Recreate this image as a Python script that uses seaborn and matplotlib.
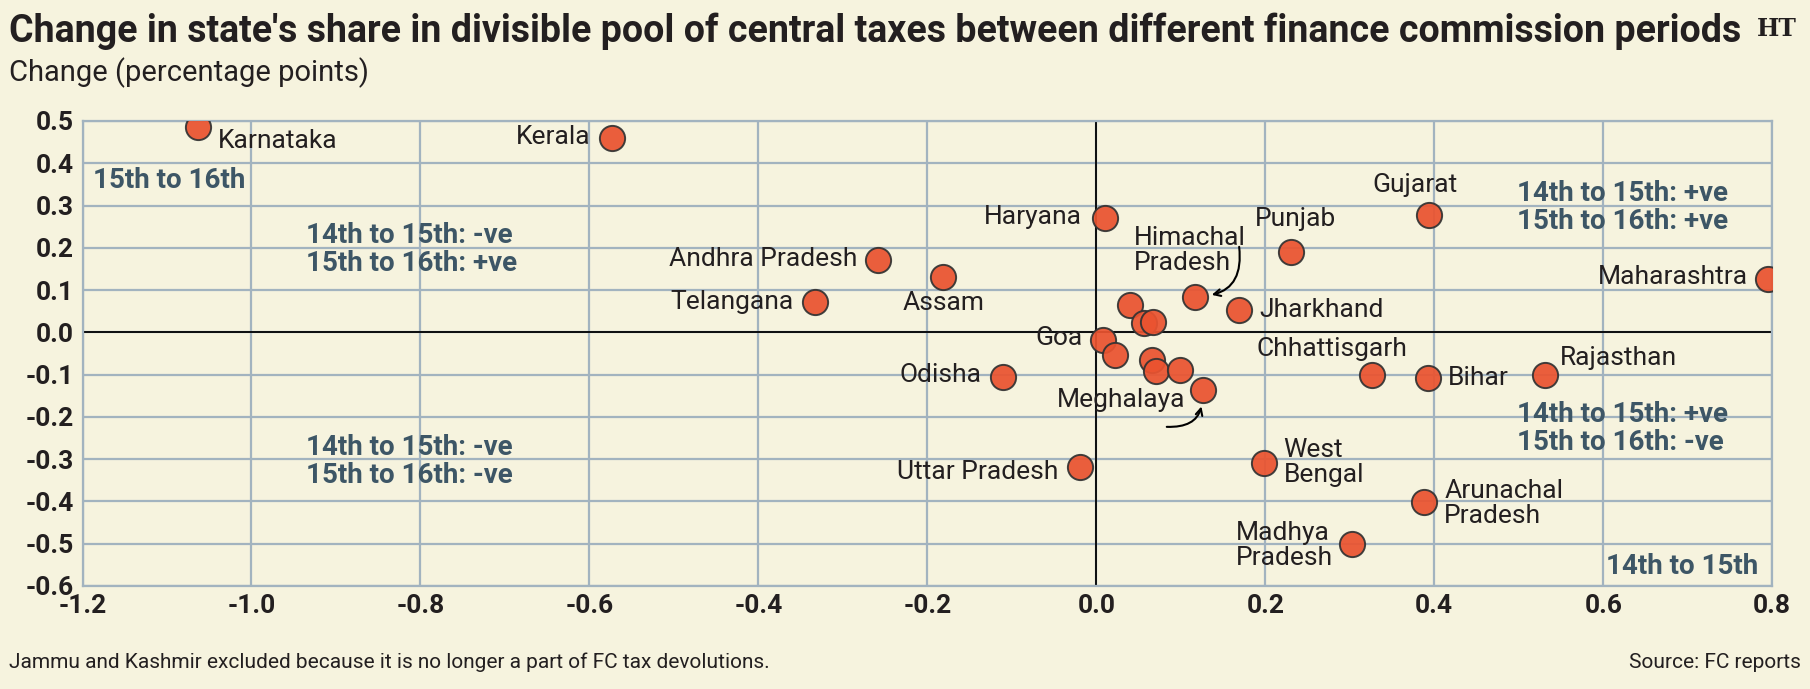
import matplotlib
matplotlib.use("Agg")
import matplotlib.pyplot as plt
from matplotlib import font_manager
import seaborn as sns
import pandas as pd

# ---------------- data ----------------
states = [
    "Karnataka", "Kerala", "Haryana", "Gujarat", "Punjab", "Maharashtra",
    "Andhra Pradesh", "Assam", "Telangana", "Himachal Pradesh", "Jharkhand",
    "Goa", "Meghalaya", "Odisha", "Chhattisgarh", "Bihar", "Rajasthan",
    "Uttar Pradesh", "West Bengal", "Arunachal Pradesh", "Madhya Pradesh",
    "Unlabelled 1", "Unlabelled 2", "Unlabelled 3", "Unlabelled 4",
    "Unlabelled 5", "Unlabelled 6", "Unlabelled 7",
]
change_14_to_15 = [
    -1.063, -0.573, 0.010, 0.394, 0.230, 0.795,
    -0.258, -0.181, -0.333, 0.117, 0.169,
    0.008, 0.126, -0.111, 0.326, 0.393, 0.531,
    -0.019, 0.198, 0.388, 0.303,
    0.040, 0.056, 0.067, 0.022, 0.066, 0.071, 0.099,
]
change_15_to_16 = [
    0.486, 0.459, 0.270, 0.278, 0.191, 0.126,
    0.172, 0.131, 0.071, 0.084, 0.052,
    -0.018, -0.136, -0.106, -0.101, -0.109, -0.101,
    -0.319, -0.308, -0.401, -0.500,
    0.065, 0.022, 0.024, -0.053, -0.065, -0.091, -0.089,
]
point_labels = [
    "Karnataka", "Kerala", "Haryana", "Gujarat", "Punjab", "Maharashtra",
    "Andhra Pradesh", "Assam", "Telangana", "Himachal\nPradesh", "Jharkhand",
    "Goa", "Meghalaya", "Odisha", "Chhattisgarh", "Bihar", "Rajasthan",
    "Uttar Pradesh", "West\nBengal", "Arunachal\nPradesh", "Madhya\nPradesh",
    "", "", "", "", "", "", "",
]
x_ticks = [-1.2, -1.0, -0.8, -0.6, -0.4, -0.2, 0.0, 0.2, 0.4, 0.6, 0.8]
y_ticks = [0.5, 0.4, 0.3, 0.2, 0.1, 0.0, -0.1, -0.2, -0.3, -0.4, -0.5, -0.6]

title = "Change in state's share in divisible pool of central taxes between different finance commission periods"
subtitle = "Change (percentage points)"
footnote = "Jammu and Kashmir excluded because it is no longer a part of FC tax devolutions."
source = "Source: FC reports"

# ---------------- style ----------------
BG = "#f6f3de"
GRID = "#a2b3bf"
DOT = "#ea5330"
TEXT = "#231f20"
QUAD = "#3d5666"

installed = {f.name for f in font_manager.fontManager.ttflist}
cond = [f for f in ["Liberation Sans Narrow", "Roboto", "DejaVu Sans"] if f in installed]

sns.set_theme(style="white")
plt.rcParams["font.family"] = cond
plt.rcParams["axes.unicode_minus"] = False

df = pd.DataFrame({"state": states, "x": change_14_to_15, "y": change_15_to_16,
                   "label": point_labels})

fig = plt.figure(figsize=(18.10, 6.89), dpi=100, facecolor=BG)
ax = fig.add_axes([0.0456, 0.1495, 0.9335, 0.6749])
ax.set_facecolor(BG)

sns.scatterplot(data=df, x="x", y="y", ax=ax, s=330, color=DOT,
                edgecolor="#333333", linewidth=1.4, alpha=0.93, zorder=3,
                legend=False)

ax.set_xlim(-1.2, 0.8)
ax.set_ylim(-0.6, 0.5)
ax.set_xticks(x_ticks)
ax.set_yticks(y_ticks)
ax.set_xticklabels([f"{v:.1f}" for v in x_ticks])
ax.set_yticklabels([f"{v:.1f}" for v in y_ticks])
ax.grid(True, color=GRID, linewidth=1.6, zorder=0)
ax.set_axisbelow(True)
for s in ax.spines.values():
    s.set_color(GRID)
    s.set_linewidth(1.6)
ax.axhline(0, color="black", linewidth=1.3, zorder=1)
ax.axvline(0, color="black", linewidth=1.3, zorder=1)
ax.tick_params(axis="both", length=0, labelsize=19, labelcolor=TEXT, pad=6)
for t in ax.get_xticklabels() + ax.get_yticklabels():
    t.set_fontweight("bold")
ax.set_xlabel("")
ax.set_ylabel("")

# label offsets (pixels) and alignments
label_layout = {
    "Karnataka": (20, -14, "left", "center"),
    "Kerala": (-22, 1, "right", "center"),
    "Haryana": (-23, 1, "right", "center"),
    "Gujarat": (-14, 30, "center", "center"),
    "Punjab": (5, 33, "center", "center"),
    "Maharashtra": (-20, 2, "right", "center"),
    "Andhra Pradesh": (-21, 1, "right", "center"),
    "Assam": (0, -26, "center", "center"),
    "Telangana": (-21, 0, "right", "center"),
    "Himachal Pradesh": (-61, 46, "left", "center"),
    "Jharkhand": (20, 0, "left", "center"),
    "Goa": (-20, 2, "right", "center"),
    "Meghalaya": (-82, -10, "center", "center"),
    "Odisha": (-21, 2, "right", "center"),
    "Chhattisgarh": (-40, 26, "center", "center"),
    "Bihar": (20, 0, "left", "center"),
    "Rajasthan": (15, 17, "left", "center"),
    "Uttar Pradesh": (-22, -5, "right", "center"),
    "West Bengal": (20, 0, "left", "center"),
    "Arunachal Pradesh": (20, -2, "left", "center"),
    "Madhya Pradesh": (-19, -2, "right", "center"),
}
for st, xv, yv, lab in zip(states, change_14_to_15, change_15_to_16, point_labels):
    if not lab:
        continue
    dx, dy, ha, va = label_layout[st]
    ax.annotate(lab, (xv, yv), xytext=(dx, dy), textcoords="offset pixels",
                ha=ha, va=va, multialignment="left", fontsize=19, color=TEXT,
                linespacing=1.05, zorder=5)

# curved pointer arrows
hp = states.index("Himachal Pradesh")
ax.annotate("", xy=(change_14_to_15[hp], change_15_to_16[hp]), xytext=(44, 50),
            textcoords="offset pixels",
            arrowprops=dict(arrowstyle="->", color="black", lw=1.5,
                            connectionstyle="arc3,rad=-0.55", shrinkA=0, shrinkB=12),
            zorder=6)
mg = states.index("Meghalaya")
ax.annotate("", xy=(change_14_to_15[mg], change_15_to_16[mg]),
            xytext=(-36, -37), textcoords="offset pixels",
            arrowprops=dict(arrowstyle="->", color="black", lw=1.5,
                            connectionstyle="arc3,rad=0.55", shrinkA=0, shrinkB=12),
            zorder=6)

# quadrant notes
qkw = dict(fontsize=20, fontweight="bold", color=QUAD, linespacing=1.05,
           transform=ax.transData, zorder=2)
ax.text(-1.188, 0.36, "15th to 16th", ha="left", va="center", **qkw)
ax.text(-0.935, 0.197, "14th to 15th: -ve\n15th to 16th: +ve", ha="left", va="center", **qkw)
ax.text(0.498, 0.295, "14th to 15th: +ve\n15th to 16th: +ve", ha="left", va="center", **qkw)
ax.text(0.498, -0.228, "14th to 15th: +ve\n15th to 16th: -ve", ha="left", va="center", **qkw)
ax.text(-0.935, -0.305, "14th to 15th: -ve\n15th to 16th: -ve", ha="left", va="center", **qkw)
ax.text(0.783, -0.555, "14th to 15th", ha="right", va="center", **qkw)

# titles and notes
fig.text(9 / 1810, 1 - 42 / 689, title, fontsize=27, fontweight="bold",
         color=TEXT, ha="left", va="baseline")
fig.text(9 / 1810, 1 - 81 / 689, subtitle, fontsize=21, color=TEXT,
         ha="left", va="baseline")
fig.text(1797 / 1810, 1 - 36 / 689, "HT", fontsize=17, fontweight="bold",
         family=["DejaVu Serif"], color=TEXT, ha="right", va="baseline")
fig.text(9 / 1810, 1 - 668 / 689, footnote, fontsize=15, color=TEXT,
         ha="left", va="baseline")
fig.text(1801 / 1810, 1 - 668 / 689, source, fontsize=15, color=TEXT,
         ha="right", va="baseline")

fig.savefig("out.png", dpi=100, facecolor=BG)
